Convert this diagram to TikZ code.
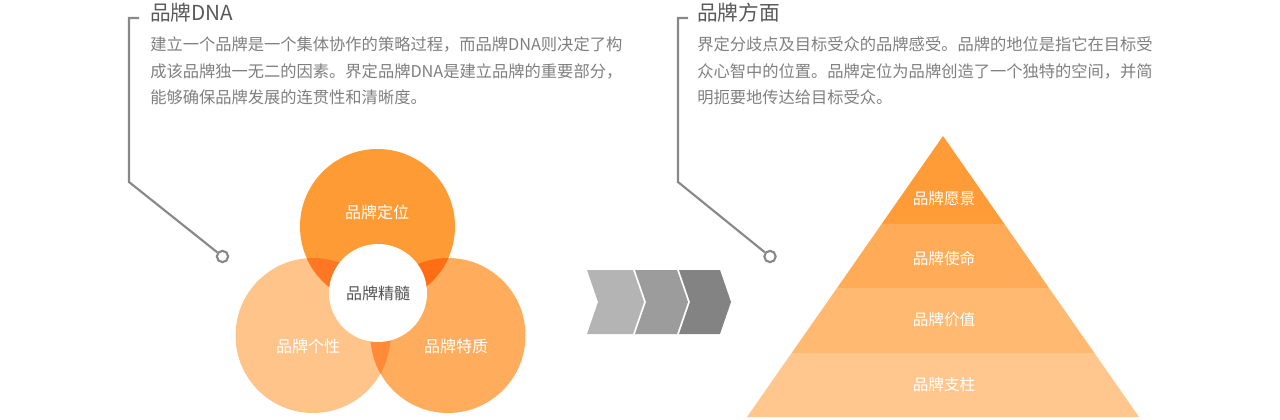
\documentclass[tikz,border=0pt]{standalone}
\usepackage{fontspec}
\setmainfont{Noto Sans CJK SC}
\definecolor{ttl}{HTML}{595959}
\definecolor{bodytxt}{HTML}{7F7F7F}
\definecolor{linegray}{HTML}{888888}
\definecolor{vtop}{HTML}{FF9B35}
\definecolor{vleft}{HTML}{FFC489}
\definecolor{vright}{HTML}{FFAD5C}
\definecolor{otl}{HTML}{FF7722}
\definecolor{otr}{HTML}{FF6E14}
\definecolor{olr}{HTML}{FF8B38}
\definecolor{pyA}{HTML}{FF9C37}
\definecolor{pyB}{HTML}{FFAB57}
\definecolor{pyC}{HTML}{FFB970}
\definecolor{pyD}{HTML}{FFC78D}
\definecolor{chA}{HTML}{B4B4B4}
\definecolor{chB}{HTML}{9C9C9C}
\definecolor{chC}{HTML}{838383}
\definecolor{coretxt}{HTML}{555555}
\begin{document}
\begin{tikzpicture}[x=0.75pt,y=-0.75pt,
  titletext/.style={inner sep=0pt,anchor=west,text=ttl,font=\fontsize{15.5pt}{18pt}\selectfont},
  bodyline/.style={inner sep=0pt,anchor=west,text=bodytxt,font=\fontsize{12.2pt}{15pt}\selectfont},
  callline/.style={draw=linegray,line width=1.6pt},
  calldot/.style={circle,draw=linegray,line width=1.6pt,fill=white,minimum size=8.5pt,inner sep=0pt},
  venn/.style={circle,minimum size=116.25pt,inner sep=0pt},
  whitelabel/.style={inner sep=0pt,text=white,font=\fontsize{12pt}{14pt}\selectfont},
  pylabel/.style={inner sep=0pt,text=white,font=\fontsize{11.7pt}{14pt}\selectfont}]
\useasboundingbox (0,0) rectangle (1280,420);

% ---------- left callout ----------
\node[titletext] (lt) at (150,12.5) {品牌DNA};
\node[bodyline] (lb1) at (150,44.5) {建立一个品牌是一个集体协作的策略过程，而品牌DNA则决定了构};
\node[bodyline] (lb2) at (150,71) {成该品牌独一无二的因素。界定品牌DNA是建立品牌的重要部分，};
\node[bodyline] (lb3) at (150,97.5) {能够确保品牌发展的连贯性和清晰度。};
\coordinate (la) at (139,18);
\coordinate (lb) at (129,18);
\coordinate (lc) at (129,182);
\node[calldot] (ld) at (222.5,256.5) {};
\draw[callline] (la) -- (lb) -- (lc) -- (ld);

% ---------- right callout ----------
\node[titletext] (rt) at (697,12.5) {品牌方面};
\node[bodyline] (rb1) at (697,44.5) {界定分歧点及目标受众的品牌感受。品牌的地位是指它在目标受};
\node[bodyline] (rb2) at (697,71) {众心智中的位置。品牌定位为品牌创造了一个独特的空间，并简};
\node[bodyline] (rb3) at (697,97.5) {明扼要地传达给目标受众。};
\coordinate (ra) at (688,18);
\coordinate (rb) at (678,18);
\coordinate (rc) at (678,182);
\node[calldot] (rd) at (770,256.5) {};
\draw[callline] (ra) -- (rb) -- (rc) -- (rd);

% ---------- Venn ----------
\node[venn,fill=vleft] (cl) at (313,335.5) {};
\node[venn,fill=vright] (cr) at (448,335.5) {};
\node[venn,fill=vtop] (ct) at (377.5,226.5) {};
\begin{scope}
  \clip (377.5,226.5) circle[radius=77.5];
  \fill[otl] (313,335.5) circle[radius=77.5];
\end{scope}
\begin{scope}
  \clip (377.5,226.5) circle[radius=77.5];
  \fill[otr] (448,335.5) circle[radius=77.5];
\end{scope}
\begin{scope}
  \clip (313,335.5) circle[radius=77.5];
  \fill[olr] (448,335.5) circle[radius=77.5];
\end{scope}
\node[circle,fill=white,minimum size=73.5pt,inner sep=0pt,text=coretxt,
      font=\fontsize{12pt}{14pt}\selectfont] (core) at (378,293) {品牌精髓};
\node[whitelabel] (ltop) at (377,212) {品牌定位};
\node[whitelabel] (lleft) at (308,346) {品牌个性};
\node[whitelabel] (lright) at (456,346) {品牌特质};

% ---------- chevrons ----------
\fill[chA] (587,270) -- (633,270) -- (644,302) -- (633,334) -- (587,334) -- (598,302) -- cycle;
\fill[chB] (635,270) -- (677,270) -- (688,302) -- (677,334) -- (635,334) -- (646,302) -- cycle;
\fill[chC] (679,270) -- (720,270) -- (731,302) -- (720,334) -- (679,334) -- (690,302) -- cycle;

% ---------- pyramid ----------
\fill[pyA] (943,136) -- (1004.4,224) -- (881.6,224) -- cycle;
\fill[pyB] (881.6,224) -- (1004.4,224) -- (1049,288) -- (837,288) -- cycle;
\fill[pyC] (837,288) -- (1049,288) -- (1094.4,353) -- (791.6,353) -- cycle;
\fill[pyD] (791.6,353) -- (1094.4,353) -- (1139,417) -- (747,417) -- cycle;
\node[pylabel] (p1) at (944,199) {品牌愿景};
\node[pylabel] (p2) at (944,259) {品牌使命};
\node[pylabel] (p3) at (944,320) {品牌价值};
\node[pylabel] (p4) at (944,385) {品牌支柱};
\end{tikzpicture}
\end{document}
